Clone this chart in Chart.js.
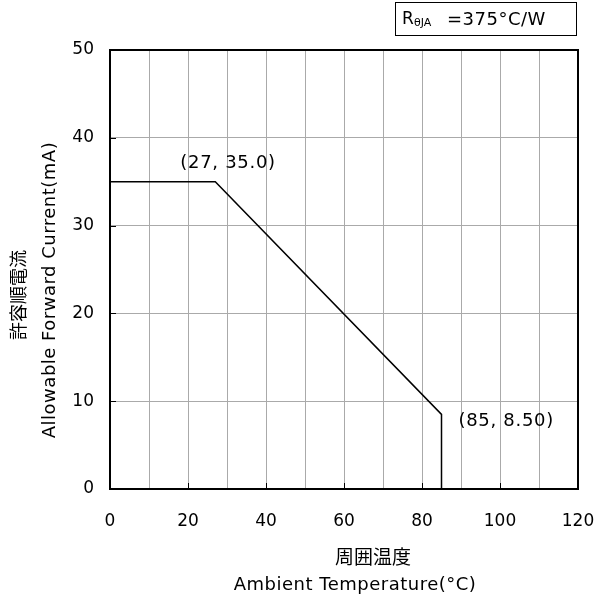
<!DOCTYPE html>
<html>
<head>
<meta charset="utf-8">
<script src="https://cdn.jsdelivr.net/npm/chart.js@4"></script>
<style>
  html, body { margin: 0; padding: 0; background: #fff; }
  #wrap { width: 596px; height: 603px; position: relative; }
</style>
</head>
<body>
<div id="wrap"><canvas id="derating"></canvas></div>
<script>
// derating curve (Ta, IF)
const tempPoints = [0, 27, 85, 85];
const currentPoints = [35, 35, 8.5, 0];
const xTicks = [0, 20, 40, 60, 80, 100, 120];
const yTicks = [0, 10, 20, 30, 40, 50];
const labels = [
    {x: 27, y: 35, text: '(27, 35.0)', dx: -35, dy: -18},
    {x: 85, y: 8.5, text: '(85, 8.50)', dx: 17, dy: 7}
];

const FONT = '"DejaVu Sans", Verdana, sans-serif';
const CJK = '"Noto Sans CJK JP", sans-serif';

const frame = {
    id: 'frame',
    afterDraw(chart) {
        const {ctx, chartArea: a, scales: {x, y}} = chart;
        ctx.save();
        // inward tick marks
        ctx.strokeStyle = '#000';
        ctx.lineWidth = 1;
        xTicks.forEach(v => {
            const px = Math.round(x.getPixelForValue(v)) + 0.5;
            ctx.beginPath(); ctx.moveTo(px, a.bottom); ctx.lineTo(px, a.bottom - 6); ctx.stroke();
        });
        yTicks.forEach(v => {
            const py = Math.round(y.getPixelForValue(v)) + 0.5;
            ctx.beginPath(); ctx.moveTo(a.left, py); ctx.lineTo(a.left + 6, py); ctx.stroke();
        });
        // plot border
        ctx.lineWidth = 2;
        ctx.strokeRect(a.left, a.top, a.right - a.left, a.bottom - a.top);

        // point labels
        ctx.fillStyle = '#000';
        ctx.font = '18px ' + FONT;
        ctx.letterSpacing = '0.7px';
        ctx.textBaseline = 'middle';
        ctx.textAlign = 'left';
        labels.forEach(l => {
            ctx.fillText(l.text, x.getPixelForValue(l.x) + l.dx, y.getPixelForValue(l.y) + l.dy);
        });

        // axis titles
        ctx.textAlign = 'center';
        ctx.letterSpacing = '0px';
        ctx.font = '19px ' + CJK;
        ctx.fillText('周囲温度', 373, 557);
        ctx.font = '18px ' + FONT;
        ctx.letterSpacing = '0.5px';
        ctx.fillText('Ambient Temperature(°C)', 355, 585);

        ctx.save();
        ctx.translate(18, 295);
        ctx.rotate(-Math.PI / 2);
        ctx.letterSpacing = '0px';
        ctx.font = '18px ' + CJK;
        ctx.fillText('許容順電流', 0, 0);
        ctx.restore();
        ctx.save();
        ctx.translate(50, 290);
        ctx.rotate(-Math.PI / 2);
        ctx.font = '18px ' + FONT;
        ctx.letterSpacing = '0.5px';
        ctx.fillText('Allowable Forward Current(mA)', 0, 0);
        ctx.restore();

        // thermal resistance box
        ctx.lineWidth = 1;
        ctx.strokeRect(395.5, 2.5, 181, 33);
        ctx.textAlign = 'left';
        ctx.letterSpacing = '0px';
        ctx.font = '17px ' + FONT;
        ctx.fillText('R', 402, 20);
        ctx.font = '11px ' + FONT;
        ctx.fillText('θJA', 414, 23);
        ctx.font = '18px ' + FONT;
        ctx.letterSpacing = '0.5px';
        ctx.fillText('=375°C/W', 447, 20);
        ctx.restore();
    }
};

new Chart(document.getElementById('derating'), {
    type: 'scatter',
    data: {
        datasets: [{
            data: tempPoints.map((t, i) => ({x: t, y: currentPoints[i]})),
            showLine: true,
            borderColor: '#000',
            borderWidth: 1.5,
            pointRadius: 0,
            tension: 0
        }]
    },
    options: {
        responsive: true,
        maintainAspectRatio: false,
        animation: false,
        layout: {padding: {left: 0, right: 18, top: 50, bottom: 0}},
        plugins: {legend: {display: false}, tooltip: {enabled: false}},
        scales: {
            x: {
                type: 'linear', min: 0, max: 120,
                afterFit: s => { s.height = 114; s.paddingLeft = 0; s.paddingRight = 0; },
                afterBuildTicks: s => { s.ticks = [0,10,20,30,40,50,60,70,80,90,100,110,120].map(v => ({value: v})); },
                grid: {color: '#aaa', lineWidth: 1, drawTicks: false},
                border: {display: false},
                ticks: {
                    color: '#000', font: {family: FONT, size: 17}, padding: 22,
                    maxRotation: 0, autoSkip: false,
                    callback: v => xTicks.includes(v) ? v : ''
                }
            },
            y: {
                type: 'linear', min: 0, max: 50,
                afterFit: s => { s.width = 110; s.paddingTop = 0; s.paddingBottom = 0; },
                afterBuildTicks: s => { s.ticks = yTicks.map(v => ({value: v})); },
                grid: {color: '#aaa', lineWidth: 1, drawTicks: false},
                border: {display: false},
                ticks: {color: '#000', font: {family: FONT, size: 17}, padding: 16}
            }
        }
    },
    plugins: [frame]
});
</script>
</body>
</html>
